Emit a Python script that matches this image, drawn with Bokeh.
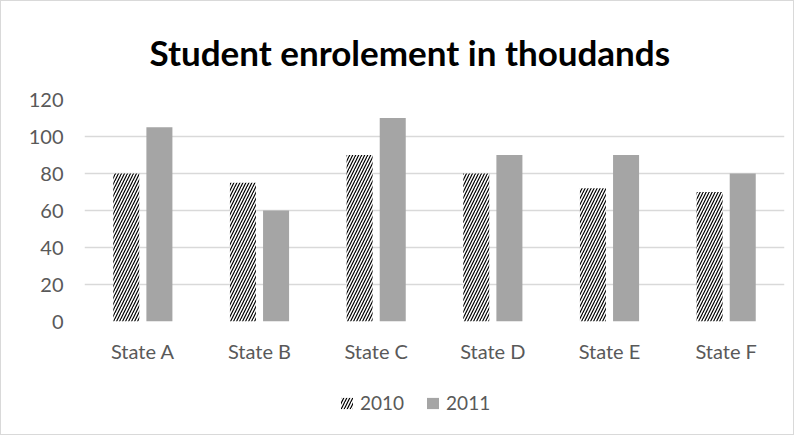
from bokeh.plotting import figure
from bokeh.layouts import column
from bokeh.models import ColumnDataSource, FactorRange, Range1d, Legend, LegendItem
from bokeh.transform import dodge
from bokeh.embed import file_html
from bokeh.resources import INLINE

states = ["State A", "State B", "State C", "State D", "State E", "State F"]
y2010 = [80, 75, 90, 80, 72, 70]
y2011 = [105, 60, 110, 90, 90, 80]
y_ticks = [0, 20, 40, 60, 80, 100, 120]
series = ["2010", "2011"]

src = ColumnDataSource(dict(state=states, y2010=y2010, y2011=y2011))

hatch_style = dict(fill_color="white", line_color=None, hatch_pattern="/", hatch_color="black",
                   hatch_scale=6, hatch_weight=1.2)
solid_style = dict(fill_color="#A5A5A5", line_color=None)

p = figure(x_range=FactorRange(*states), y_range=Range1d(0, 120),
           width=792, height=378, output_backend="svg", toolbar_location=None,
           min_border_left=83, min_border_right=9, min_border_top=2, min_border_bottom=58)
p.title.text = "Student enrolement in thoudands"
p.title.align = "left"
p.title.offset = 65
p.title.text_font = "Lato"
p.title.text_font_size = "35px"
p.title.text_font_style = "bold"
p.title.text_color = "#000000"
p.title.standoff = 54

p.vbar(x=dodge("state", -0.142, range=p.x_range), top="y2010", width=0.223, source=src, **hatch_style)
p.vbar(x=dodge("state", 0.142, range=p.x_range), top="y2011", width=0.223, source=src, **solid_style)

p.yaxis.ticker = y_ticks
p.ygrid.ticker = y_ticks
p.xgrid.grid_line_color = None
p.ygrid.grid_line_color = "#D9D9D9"
p.ygrid.grid_line_width = 1.5
for ax in (p.xaxis, p.yaxis):
    ax.axis_line_color = None
    ax.major_tick_line_color = None
    ax.minor_tick_line_color = None
    ax.major_tick_out = 0
    ax.major_tick_in = 0
    ax.major_label_text_font = "Lato"
    ax.major_label_text_font_size = "20px"
    ax.major_label_text_color = "#595959"
p.yaxis.major_label_standoff = 21
p.xaxis.major_label_standoff = 17
p.outline_line_color = None

# legend strip below the chart
lf = figure(width=792, height=55, output_backend="svg", toolbar_location=None,
            x_range=Range1d(0, 1), y_range=Range1d(0, 1), x_axis_type=None, y_axis_type=None,
            min_border_left=83, min_border_right=9, min_border_top=0, min_border_bottom=0)
lf.outline_line_color = None
lf.grid.grid_line_color = None
key_src = ColumnDataSource(dict(x=[-5], top=[-5]))
g1 = lf.vbar(x="x", top="top", width=0.1, source=key_src, **hatch_style)
g2 = lf.vbar(x="x", top="top", width=0.1, source=key_src, **solid_style)
legend = Legend(items=[LegendItem(label=series[0], renderers=[g1]),
                       LegendItem(label=series[1], renderers=[g2])],
                orientation="horizontal", location=(255, 20),
                label_text_font="Lato", label_text_font_size="19px",
                label_text_color="#595959", border_line_color=None,
                background_fill_alpha=0,
                glyph_width=15, glyph_height=14, spacing=21, label_standoff=6,
                margin=0, padding=0)
lf.add_layout(legend, "center")

layout = column(p, lf, spacing=0, styles={"border": "1px solid #D9D9D9"})
open("out.html", "w").write(file_html(layout, INLINE))
